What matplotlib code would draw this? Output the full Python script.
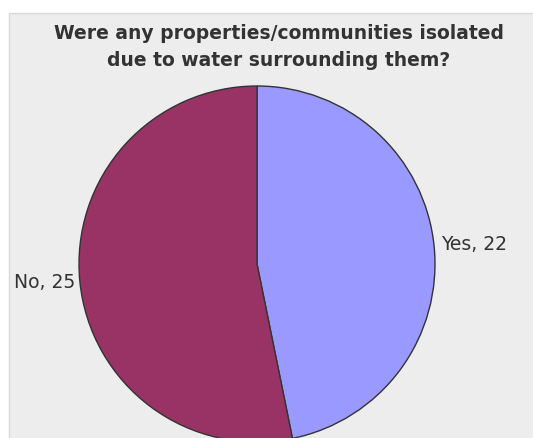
import matplotlib.pyplot as plt
from matplotlib.patches import Rectangle

labels = ["Yes", "No"]
counts = [22, 25]
colors = ["#9999FF", "#993366"]

W, H = 533, 439
fig = plt.figure(figsize=(W / 100, H / 100), dpi=100)
fig.patch.set_facecolor("white")

# axes in pixel units so the pie can hang off the bottom edge
ax = fig.add_axes([0, 0, 1, 1])
ax.patch.set_visible(False)

# grey chart area, slightly inset from the top-left corner
ax.add_patch(Rectangle((9, -5), W, H - 14 + 5, facecolor="#EDEDED",
                       edgecolor="#D9D9D9", lw=1, zorder=0))

wedges, _ = ax.pie(counts, colors=colors, startangle=90, counterclock=False,
                   center=(257, 174), radius=178, frame=True,
                   wedgeprops=dict(edgecolor="#333333", linewidth=1, zorder=2))
ax.set_xlim(0, W)
ax.set_ylim(0, H)
ax.set_aspect("auto")
ax.axis("off")

font = "DejaVu Sans"
ax.text(441, 194, f"{labels[0]}, {counts[0]}", ha="left", va="center",
        fontsize=13.5, color="#333333", family=font)
ax.text(75, 156, f"{labels[1]}, {counts[1]}", ha="right", va="center",
        fontsize=13.5, color="#333333", family=font)

title = "Were any properties/communities isolated\ndue to water surrounding them?"
ax.text(279, H - 47, title, ha="center", va="center", fontsize=13.5,
        fontweight="bold", color="#333333", family=font, linespacing=1.55)

fig.savefig("out.png", dpi=100)
